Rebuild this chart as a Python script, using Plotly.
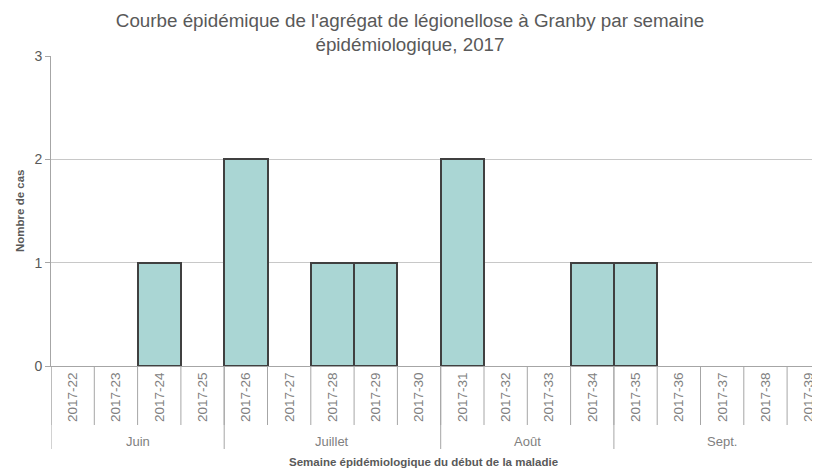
import plotly.graph_objects as go

weeks = ["2017-22", "2017-23", "2017-24", "2017-25", "2017-26", "2017-27",
         "2017-28", "2017-29", "2017-30", "2017-31", "2017-32", "2017-33",
         "2017-34", "2017-35", "2017-36", "2017-37", "2017-38", "2017-39"]
cases = [0, 0, 1, 0, 2, 0, 1, 1, 0, 2, 0, 0, 1, 1, 0, 0, 0, 0]
months = ["Juin", "Juillet", "Août", "Sept."]
weeks_per_month = [4, 5, 4, 5]
y_ticks = [0, 1, 2, 3]

FONT = "Liberation Sans Narrow, Arial Narrow, Liberation Sans, Arial, sans-serif"
GRID = "#c8c8c8"
SEP = "#a6a6a6"
TXT = "#595959"
LBL = "#808080"

# page body has an 8px margin: figure sized so it ends at the window edge
W, H = 812, 462
ML, MR, MT, MB = 43, 0, 48, 104
plot_h = H - MT - MB
plot_w = W - ML - MR
cat_w = 43.3

fig = go.Figure()
fig.add_trace(go.Bar(
    x=list(range(len(weeks))),
    y=[v if v > 0 else None for v in cases],
    marker=dict(color="#aad6d4", line=dict(color="#404040", width=2)),
    width=1.0,
    hoverinfo="x+y",
))

shapes = []
for i in range(len(weeks) + 1):
    shapes.append(dict(type="line", xref="x", yref="paper",
                       x0=i - 0.5, x1=i - 0.5, y0=0, y1=-59 / plot_h,
                       line=dict(color=SEP, width=1)))
annotations = []
start = 0
for m, n in zip(months, weeks_per_month):
    shapes.append(dict(type="line", xref="x", yref="paper",
                       x0=start - 0.5, x1=start - 0.5, y0=0, y1=-83 / plot_h,
                       line=dict(color=SEP, width=1)))
    annotations.append(dict(text=m, xref="x", yref="paper",
                            x=start - 0.5 + n / 2, y=-75 / plot_h,
                            showarrow=False, xanchor="center", yanchor="middle",
                            font=dict(family=FONT, size=13, color=LBL)))
    start += n

annotations.append(dict(text="<b>Semaine épidémiologique du début de la maladie</b>",
                        xref="paper", yref="paper", x=(415 - ML) / plot_w, y=-96 / plot_h,
                        showarrow=False, xanchor="center", yanchor="middle",
                        font=dict(family=FONT, size=11.5, color=TXT)))
annotations.append(dict(text="<b>Nombre de cas</b>", textangle=-90,
                        xref="paper", yref="paper", x=(12 - ML) / plot_w, y=0.5,
                        showarrow=False, xanchor="center", yanchor="middle",
                        font=dict(family=FONT, size=11.5, color=TXT)))

fig.update_layout(
    width=W, height=H,
    margin=dict(l=ML, r=MR, t=MT, b=MB, autoexpand=False),
    paper_bgcolor="white", plot_bgcolor="white",
    showlegend=False,
    bargap=0,
    title=dict(text="Courbe épidémique de l'agrégat de légionellose à Granby par semaine<br>épidémiologique, 2017",
               x=402 / W, xanchor="center", y=1 - 19 / H, yanchor="middle",
               font=dict(family=FONT, size=18.8, color=TXT)),
    xaxis=dict(
        range=[-0.5, -0.5 + plot_w / cat_w],
        tickmode="array", tickvals=list(range(len(weeks))), ticktext=weeks,
        tickangle=-90, ticks="", showgrid=False, zeroline=False,
        showline=True, linecolor=SEP, linewidth=1, automargin=False,
        tickfont=dict(family="Liberation Sans, Arial, sans-serif", size=13.5, color=LBL),
    ),
    yaxis=dict(
        range=[0, 3], tickmode="array", tickvals=y_ticks,
        showgrid=True, gridcolor=GRID, gridwidth=1, zeroline=False,
        showline=True, linecolor=SEP, linewidth=1, automargin=False,
        ticks="outside", ticklen=5, tickcolor=SEP,
        tickfont=dict(family="Liberation Sans, Arial, sans-serif", size=14, color=TXT),
    ),
    shapes=shapes,
    annotations=annotations,
)

fig.write_html("out.html")
